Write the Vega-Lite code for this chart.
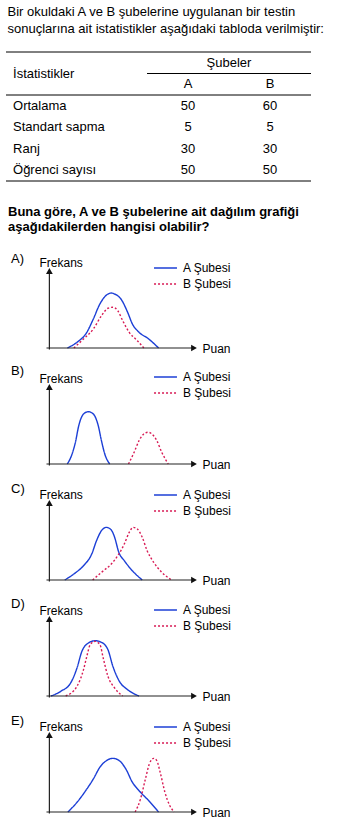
{
  "$schema": "https://vega.github.io/schema/vega-lite/v6.json",
  "padding": {"left": 5, "top": 5, "right": 5, "bottom": 5},
  "bounds": "flush",
  "spacing": 90,
  "title": {
    "text": ["Bir okuldaki A ve B şubelerine uygulanan bir testin", "sonuçlarına ait istatistikler aşağıdaki tabloda verilmiştir:"],
    "anchor": "start", "fontSize": 13, "fontWeight": "normal", "lineHeight": 17, "dx": 2, "offset": 16
  },
  "config": {
    "font": "Liberation Sans",
    "view": {"stroke": null},
    "title": {"color": "#000", "fontWeight": "normal", "fontSize": 13},
    "text": {"fontSize": 13, "color": "#000"},
    "axis": {"domain": false, "ticks": false, "labels": false, "grid": false, "titleFontWeight": "normal", "titleFontSize": 12, "titleColor": "#000", "titlePadding": 0},
    "axisX": {"titleX": 196, "titleY": 0, "titleAlign": "left", "titleBaseline": "middle", "titleAngle": 0},
    "axisY": {"titleX": 33, "titleY": -9, "titleAlign": "left", "titleBaseline": "middle", "titleAngle": 0},
    "legend": {"orient": "none", "legendX": 150, "symbolType": "M-1.35,0H1.35", "symbolSize": 289, "symbolStrokeWidth": 1.3, "labelFontSize": 12, "labelColor": "#000", "labelOffset": 8, "rowPadding": 0, "padding": 0}
  },
  "datasets": {
    "table": [
      {"stat": "Ortalama", "sube": "A", "value": 50},
      {"stat": "Ortalama", "sube": "B", "value": 60},
      {"stat": "Standart sapma", "sube": "A", "value": 5},
      {"stat": "Standart sapma", "sube": "B", "value": 5},
      {"stat": "Ranj", "sube": "A", "value": 30},
      {"stat": "Ranj", "sube": "B", "value": 30},
      {"stat": "Öğrenci sayısı", "sube": "A", "value": 50},
      {"stat": "Öğrenci sayısı", "sube": "B", "value": 50}
    ],
    "curves": [
      {"panel": "A", "sube": "A Şubesi", "puan": 12.4, "frekans": 0},
      {"panel": "A", "sube": "A Şubesi", "puan": 19.1, "frekans": 7.4},
      {"panel": "A", "sube": "A Şubesi", "puan": 25.9, "frekans": 20.4},
      {"panel": "A", "sube": "A Şubesi", "puan": 30.4, "frekans": 37.7},
      {"panel": "A", "sube": "A Şubesi", "puan": 34.9, "frekans": 57.1},
      {"panel": "A", "sube": "A Şubesi", "puan": 40.5, "frekans": 70.1},
      {"panel": "A", "sube": "A Şubesi", "puan": 42.8, "frekans": 71.4},
      {"panel": "A", "sube": "A Şubesi", "puan": 45.1, "frekans": 70.1},
      {"panel": "A", "sube": "A Şubesi", "puan": 49.5, "frekans": 63.6},
      {"panel": "A", "sube": "A Şubesi", "puan": 54.1, "frekans": 46.4},
      {"panel": "A", "sube": "A Şubesi", "puan": 57.4, "frekans": 31.2},
      {"panel": "A", "sube": "A Şubesi", "puan": 62.0, "frekans": 20.4},
      {"panel": "A", "sube": "A Şubesi", "puan": 68.7, "frekans": 11.7},
      {"panel": "A", "sube": "A Şubesi", "puan": 75.5, "frekans": 0},
      {"panel": "A", "sube": "B Şubesi", "puan": 16.9, "frekans": 0},
      {"panel": "A", "sube": "B Şubesi", "puan": 23.6, "frekans": 11.7},
      {"panel": "A", "sube": "B Şubesi", "puan": 30.4, "frekans": 24.7},
      {"panel": "A", "sube": "B Şubesi", "puan": 36.0, "frekans": 41.9},
      {"panel": "A", "sube": "B Şubesi", "puan": 40.5, "frekans": 51.6},
      {"panel": "A", "sube": "B Şubesi", "puan": 43.9, "frekans": 52.9},
      {"panel": "A", "sube": "B Şubesi", "puan": 47.3, "frekans": 48.4},
      {"panel": "A", "sube": "B Şubesi", "puan": 50.7, "frekans": 35.5},
      {"panel": "A", "sube": "B Şubesi", "puan": 55.2, "frekans": 20.4},
      {"panel": "A", "sube": "B Şubesi", "puan": 60.8, "frekans": 9.5},
      {"panel": "A", "sube": "B Şubesi", "puan": 65.3, "frekans": 0},

      {"panel": "B", "sube": "A Şubesi", "puan": 12.4, "frekans": 0},
      {"panel": "B", "sube": "A Şubesi", "puan": 15.7, "frekans": 13.0},
      {"panel": "B", "sube": "A Şubesi", "puan": 18.0, "frekans": 28.2},
      {"panel": "B", "sube": "A Şubesi", "puan": 20.3, "frekans": 49.7},
      {"panel": "B", "sube": "A Şubesi", "puan": 23.6, "frekans": 64.9},
      {"panel": "B", "sube": "A Şubesi", "puan": 27.0, "frekans": 67.9},
      {"panel": "B", "sube": "A Şubesi", "puan": 30.4, "frekans": 64.9},
      {"panel": "B", "sube": "A Şubesi", "puan": 33.8, "frekans": 49.7},
      {"panel": "B", "sube": "A Şubesi", "puan": 36.0, "frekans": 30.3},
      {"panel": "B", "sube": "A Şubesi", "puan": 38.3, "frekans": 13.0},
      {"panel": "B", "sube": "A Şubesi", "puan": 41.7, "frekans": 0},
      {"panel": "B", "sube": "B Şubesi", "puan": 54.7, "frekans": 0},
      {"panel": "B", "sube": "B Şubesi", "puan": 58.6, "frekans": 15.2},
      {"panel": "B", "sube": "B Şubesi", "puan": 62.0, "frekans": 30.3},
      {"panel": "B", "sube": "B Şubesi", "puan": 65.3, "frekans": 39.0},
      {"panel": "B", "sube": "B Şubesi", "puan": 68.2, "frekans": 41.2},
      {"panel": "B", "sube": "B Şubesi", "puan": 70.9, "frekans": 39.0},
      {"panel": "B", "sube": "B Şubesi", "puan": 74.3, "frekans": 30.3},
      {"panel": "B", "sube": "B Şubesi", "puan": 77.7, "frekans": 15.2},
      {"panel": "B", "sube": "B Şubesi", "puan": 82.2, "frekans": 0},

      {"panel": "C", "sube": "A Şubesi", "puan": 10.6, "frekans": 0},
      {"panel": "C", "sube": "A Şubesi", "puan": 16.9, "frekans": 7.8},
      {"panel": "C", "sube": "A Şubesi", "puan": 23.6, "frekans": 18.6},
      {"panel": "C", "sube": "A Şubesi", "puan": 29.3, "frekans": 33.8},
      {"panel": "C", "sube": "A Şubesi", "puan": 32.6, "frekans": 51.1},
      {"panel": "C", "sube": "A Şubesi", "puan": 36.0, "frekans": 64.0},
      {"panel": "C", "sube": "A Şubesi", "puan": 39.4, "frekans": 68.4},
      {"panel": "C", "sube": "A Şubesi", "puan": 42.8, "frekans": 64.9},
      {"panel": "C", "sube": "A Şubesi", "puan": 45.1, "frekans": 55.5},
      {"panel": "C", "sube": "A Şubesi", "puan": 48.0, "frekans": 36.0},
      {"panel": "C", "sube": "A Şubesi", "puan": 51.8, "frekans": 25.1},
      {"panel": "C", "sube": "A Şubesi", "puan": 56.3, "frekans": 14.3},
      {"panel": "C", "sube": "A Şubesi", "puan": 64.2, "frekans": 0},
      {"panel": "C", "sube": "B Şubesi", "puan": 29.9, "frekans": 0},
      {"panel": "C", "sube": "B Şubesi", "puan": 36.0, "frekans": 10.0},
      {"panel": "C", "sube": "B Şubesi", "puan": 42.8, "frekans": 20.8},
      {"panel": "C", "sube": "B Şubesi", "puan": 47.3, "frekans": 31.6},
      {"panel": "C", "sube": "B Şubesi", "puan": 51.8, "frekans": 46.8},
      {"panel": "C", "sube": "B Şubesi", "puan": 55.2, "frekans": 61.9},
      {"panel": "C", "sube": "B Şubesi", "puan": 57.9, "frekans": 68.4},
      {"panel": "C", "sube": "B Şubesi", "puan": 60.8, "frekans": 66.2},
      {"panel": "C", "sube": "B Şubesi", "puan": 64.2, "frekans": 55.5},
      {"panel": "C", "sube": "B Şubesi", "puan": 67.6, "frekans": 38.1},
      {"panel": "C", "sube": "B Şubesi", "puan": 72.1, "frekans": 23.0},
      {"panel": "C", "sube": "B Şubesi", "puan": 77.7, "frekans": 10.0},
      {"panel": "C", "sube": "B Şubesi", "puan": 84.5, "frekans": 0},

      {"panel": "D", "sube": "A Şubesi", "puan": 1.1, "frekans": 0},
      {"panel": "D", "sube": "A Şubesi", "puan": 7.9, "frekans": 6.1},
      {"panel": "D", "sube": "A Şubesi", "puan": 14.7, "frekans": 16.9},
      {"panel": "D", "sube": "A Şubesi", "puan": 19.1, "frekans": 36.4},
      {"panel": "D", "sube": "A Şubesi", "puan": 22.5, "frekans": 58.1},
      {"panel": "D", "sube": "A Şubesi", "puan": 27.0, "frekans": 68.8},
      {"panel": "D", "sube": "A Şubesi", "puan": 31.6, "frekans": 71.8},
      {"panel": "D", "sube": "A Şubesi", "puan": 36.0, "frekans": 69.7},
      {"panel": "D", "sube": "A Şubesi", "puan": 40.5, "frekans": 60.1},
      {"panel": "D", "sube": "A Şubesi", "puan": 43.9, "frekans": 38.6},
      {"panel": "D", "sube": "A Şubesi", "puan": 48.4, "frekans": 19.1},
      {"panel": "D", "sube": "A Şubesi", "puan": 54.1, "frekans": 8.2},
      {"panel": "D", "sube": "A Şubesi", "puan": 62.0, "frekans": 0},
      {"panel": "D", "sube": "B Şubesi", "puan": 11.3, "frekans": 0},
      {"panel": "D", "sube": "B Şubesi", "puan": 19.1, "frekans": 12.6},
      {"panel": "D", "sube": "B Şubesi", "puan": 23.6, "frekans": 34.2},
      {"panel": "D", "sube": "B Şubesi", "puan": 25.9, "frekans": 51.6},
      {"panel": "D", "sube": "B Şubesi", "puan": 28.2, "frekans": 66.6},
      {"panel": "D", "sube": "B Şubesi", "puan": 31.6, "frekans": 71.0},
      {"panel": "D", "sube": "B Şubesi", "puan": 35.0, "frekans": 66.6},
      {"panel": "D", "sube": "B Şubesi", "puan": 37.2, "frekans": 49.4},
      {"panel": "D", "sube": "B Şubesi", "puan": 40.5, "frekans": 25.6},
      {"panel": "D", "sube": "B Şubesi", "puan": 45.1, "frekans": 10.4},
      {"panel": "D", "sube": "B Şubesi", "puan": 50.7, "frekans": 0},

      {"panel": "E", "sube": "A Şubesi", "puan": 12.8, "frekans": 0},
      {"panel": "E", "sube": "A Şubesi", "puan": 19.1, "frekans": 12.6},
      {"panel": "E", "sube": "A Şubesi", "puan": 25.9, "frekans": 29.9},
      {"panel": "E", "sube": "A Şubesi", "puan": 30.4, "frekans": 42.9},
      {"panel": "E", "sube": "A Şubesi", "puan": 34.9, "frekans": 58.1},
      {"panel": "E", "sube": "A Şubesi", "puan": 39.4, "frekans": 66.6},
      {"panel": "E", "sube": "A Şubesi", "puan": 43.9, "frekans": 69.7},
      {"panel": "E", "sube": "A Şubesi", "puan": 48.4, "frekans": 66.6},
      {"panel": "E", "sube": "A Şubesi", "puan": 52.9, "frekans": 55.8},
      {"panel": "E", "sube": "A Şubesi", "puan": 57.4, "frekans": 38.6},
      {"panel": "E", "sube": "A Şubesi", "puan": 62.0, "frekans": 27.7},
      {"panel": "E", "sube": "A Şubesi", "puan": 68.7, "frekans": 14.7},
      {"panel": "E", "sube": "A Şubesi", "puan": 75.5, "frekans": 0},
      {"panel": "E", "sube": "B Şubesi", "puan": 59.3, "frekans": 0},
      {"panel": "E", "sube": "B Şubesi", "puan": 63.0, "frekans": 16.9},
      {"panel": "E", "sube": "B Şubesi", "puan": 66.4, "frekans": 42.9},
      {"panel": "E", "sube": "B Şubesi", "puan": 69.1, "frekans": 62.3},
      {"panel": "E", "sube": "B Şubesi", "puan": 72.1, "frekans": 69.7},
      {"panel": "E", "sube": "B Şubesi", "puan": 74.3, "frekans": 66.6},
      {"panel": "E", "sube": "B Şubesi", "puan": 76.6, "frekans": 51.6},
      {"panel": "E", "sube": "B Şubesi", "puan": 79.9, "frekans": 25.6},
      {"panel": "E", "sube": "B Şubesi", "puan": 83.3, "frekans": 8.2},
      {"panel": "E", "sube": "B Şubesi", "puan": 86.3, "frekans": 0}
    ]
  },
  "vconcat": [
    {
      "width": 305,
      "height": 129,
      "title": {
        "text": ["Buna göre, A ve B şubelerine ait dağılım grafiği", "aşağıdakilerden hangisi olabilir?"],
        "orient": "bottom", "anchor": "start", "frame": "group", "fontWeight": "bold", "fontSize": 13, "lineHeight": 15, "dx": 2, "offset": 24
      },
      "data": {"name": "table"},
      "encoding": {
        "x": {"type": "nominal", "axis": null, "scale": {"type": "band", "domain": ["stub", "A", "B"], "paddingInner": 0, "paddingOuter": 0.36, "align": 1}},
        "y": {"type": "nominal", "axis": null, "scale": {"type": "band", "domain": ["h1", "h2", "Ortalama", "Standart sapma", "Ranj", "Öğrenci sayısı"], "paddingInner": 0, "paddingOuter": 0}}
      },
      "layer": [
        {"mark": {"type": "text"}, "encoding": {"x": {"field": "sube", "type": "nominal"}, "y": {"field": "stat", "type": "nominal"}, "text": {"field": "value", "type": "quantitative"}}},
        {"transform": [{"filter": "datum.sube == 'A'"}], "mark": {"type": "text", "align": "left", "dx": -52}, "encoding": {"x": {"datum": "stub", "bandPosition": 0}, "y": {"field": "stat", "type": "nominal"}, "text": {"field": "stat", "type": "nominal"}}},
        {"transform": [{"filter": "datum.stat == 'Ortalama'"}], "mark": {"type": "text"}, "encoding": {"x": {"field": "sube", "type": "nominal"}, "y": {"datum": "h2"}, "text": {"field": "sube", "type": "nominal"}}},
        {"data": {"values": [{}]}, "mark": {"type": "text"}, "encoding": {"x": {"datum": "B", "bandPosition": 0}, "y": {"datum": "h1"}, "text": {"value": "Şubeler"}}},
        {"data": {"values": [{}]}, "mark": {"type": "text", "align": "left", "dx": -52}, "encoding": {"x": {"datum": "stub", "bandPosition": 0}, "y": {"datum": "h1", "bandPosition": 1}, "text": {"value": "İstatistikler"}}},
        {"data": {"values": [{}]}, "mark": {"type": "rule", "color": "#000", "strokeWidth": 1}, "encoding": {"y": {"datum": "h1", "bandPosition": 0}}},
        {"data": {"values": [{}]}, "mark": {"type": "rule", "color": "#000", "strokeWidth": 1}, "encoding": {"y": {"datum": "h2", "bandPosition": 0}, "x": {"datum": "A", "bandPosition": 0}, "x2": {"datum": "B", "bandPosition": 1}}},
        {"data": {"values": [{}]}, "mark": {"type": "rule", "color": "#000", "strokeWidth": 1}, "encoding": {"y": {"datum": "Ortalama", "bandPosition": 0}}},
        {"data": {"values": [{}]}, "mark": {"type": "rule", "color": "#000", "strokeWidth": 1}, "encoding": {"y": {"datum": "Öğrenci sayısı", "bandPosition": 1}}}
      ]
    },
    {
      "bounds": "flush",
      "spacing": 39,
      "resolve": {"scale": {"color": "independent", "strokeDash": "independent"}, "legend": {"color": "independent", "strokeDash": "independent"}},
      "vconcat": [
        {
          "width": 188, "height": 77,
          "title": {"text": "A)", "anchor": "start", "frame": "group", "dx": 5, "offset": -10},
          "layer": [
            {"data": {"name": "curves"}, "transform": [{"filter": "datum.panel == 'A'"}], "mark": {"type": "line", "interpolate": "monotone", "strokeWidth": 1.4},
             "encoding": {
               "x": {"field": "puan", "type": "quantitative", "scale": {"domain": [-27, 100]}, "axis": {"title": "Puan"}},
               "y": {"field": "frekans", "type": "quantitative", "scale": {"domain": [0, 100]}, "axis": {"title": "Frekans"}},
               "color": {"field": "sube", "type": "nominal", "scale": {"domain": ["A Şubesi", "B Şubesi"], "range": ["#1c3fd6", "#d81b55"]}, "legend": {"title": null, "legendY": -12.5}},
               "strokeDash": {"field": "sube", "type": "nominal", "scale": {"domain": ["A Şubesi", "B Şubesi"], "range": [[1, 0], [2, 2]]}, "legend": {"title": null, "legendY": -12.5}}
             }},
            {"data": {"values": [{}]}, "mark": {"type": "rule", "color": "#222", "strokeWidth": 1.2}, "encoding": {"x": {"datum": 0}, "y": {"datum": -2}, "y2": {"datum": 100}}},
            {"data": {"values": [{}]}, "mark": {"type": "rule", "color": "#222", "strokeWidth": 1.2}, "encoding": {"y": {"datum": 0}, "x": {"datum": -2}, "x2": {"datum": 100}}},
            {"data": {"values": [{}]}, "mark": {"type": "point", "shape": "triangle-up", "filled": true, "color": "#111", "size": 45, "opacity": 1}, "encoding": {"x": {"datum": 0}, "y": {"datum": 100}}},
            {"data": {"values": [{}]}, "mark": {"type": "point", "shape": "triangle-right", "filled": true, "color": "#111", "size": 45, "opacity": 1}, "encoding": {"x": {"datum": 100}, "y": {"datum": 0}}}
          ]
        },
        {
          "width": 188, "height": 77,
          "title": {"text": "B)", "anchor": "start", "frame": "group", "dx": 5, "offset": -10},
          "layer": [
            {"data": {"name": "curves"}, "transform": [{"filter": "datum.panel == 'B'"}], "mark": {"type": "line", "interpolate": "monotone", "strokeWidth": 1.4},
             "encoding": {
               "x": {"field": "puan", "type": "quantitative", "scale": {"domain": [-27, 100]}, "axis": {"title": "Puan"}},
               "y": {"field": "frekans", "type": "quantitative", "scale": {"domain": [0, 100]}, "axis": {"title": "Frekans"}},
               "color": {"field": "sube", "type": "nominal", "scale": {"domain": ["A Şubesi", "B Şubesi"], "range": ["#1c3fd6", "#d81b55"]}, "legend": {"title": null, "legendY": -19.5}},
               "strokeDash": {"field": "sube", "type": "nominal", "scale": {"domain": ["A Şubesi", "B Şubesi"], "range": [[1, 0], [2, 2]]}, "legend": {"title": null, "legendY": -19.5}}
             }},
            {"data": {"values": [{}]}, "mark": {"type": "rule", "color": "#222", "strokeWidth": 1.2}, "encoding": {"x": {"datum": 0}, "y": {"datum": -2}, "y2": {"datum": 100}}},
            {"data": {"values": [{}]}, "mark": {"type": "rule", "color": "#222", "strokeWidth": 1.2}, "encoding": {"y": {"datum": 0}, "x": {"datum": -2}, "x2": {"datum": 100}}},
            {"data": {"values": [{}]}, "mark": {"type": "point", "shape": "triangle-up", "filled": true, "color": "#111", "size": 45, "opacity": 1}, "encoding": {"x": {"datum": 0}, "y": {"datum": 100}}},
            {"data": {"values": [{}]}, "mark": {"type": "point", "shape": "triangle-right", "filled": true, "color": "#111", "size": 45, "opacity": 1}, "encoding": {"x": {"datum": 100}, "y": {"datum": 0}}}
          ]
        },
        {
          "width": 188, "height": 77,
          "title": {"text": "C)", "anchor": "start", "frame": "group", "dx": 5, "offset": -10},
          "layer": [
            {"data": {"name": "curves"}, "transform": [{"filter": "datum.panel == 'C'"}], "mark": {"type": "line", "interpolate": "monotone", "strokeWidth": 1.4},
             "encoding": {
               "x": {"field": "puan", "type": "quantitative", "scale": {"domain": [-27, 100]}, "axis": {"title": "Puan"}},
               "y": {"field": "frekans", "type": "quantitative", "scale": {"domain": [0, 100]}, "axis": {"title": "Frekans"}},
               "color": {"field": "sube", "type": "nominal", "scale": {"domain": ["A Şubesi", "B Şubesi"], "range": ["#1c3fd6", "#d81b55"]}, "legend": {"title": null, "legendY": -17.5}},
               "strokeDash": {"field": "sube", "type": "nominal", "scale": {"domain": ["A Şubesi", "B Şubesi"], "range": [[1, 0], [2, 2]]}, "legend": {"title": null, "legendY": -17.5}}
             }},
            {"data": {"values": [{}]}, "mark": {"type": "rule", "color": "#222", "strokeWidth": 1.2}, "encoding": {"x": {"datum": 0}, "y": {"datum": -2}, "y2": {"datum": 100}}},
            {"data": {"values": [{}]}, "mark": {"type": "rule", "color": "#222", "strokeWidth": 1.2}, "encoding": {"y": {"datum": 0}, "x": {"datum": -2}, "x2": {"datum": 100}}},
            {"data": {"values": [{}]}, "mark": {"type": "point", "shape": "triangle-up", "filled": true, "color": "#111", "size": 45, "opacity": 1}, "encoding": {"x": {"datum": 0}, "y": {"datum": 100}}},
            {"data": {"values": [{}]}, "mark": {"type": "point", "shape": "triangle-right", "filled": true, "color": "#111", "size": 45, "opacity": 1}, "encoding": {"x": {"datum": 100}, "y": {"datum": 0}}}
          ]
        },
        {
          "width": 188, "height": 77,
          "title": {"text": "D)", "anchor": "start", "frame": "group", "dx": 5, "offset": -10},
          "layer": [
            {"data": {"name": "curves"}, "transform": [{"filter": "datum.panel == 'D'"}], "mark": {"type": "line", "interpolate": "monotone", "strokeWidth": 1.4},
             "encoding": {
               "x": {"field": "puan", "type": "quantitative", "scale": {"domain": [-27, 100]}, "axis": {"title": "Puan"}},
               "y": {"field": "frekans", "type": "quantitative", "scale": {"domain": [0, 100]}, "axis": {"title": "Frekans"}},
               "color": {"field": "sube", "type": "nominal", "scale": {"domain": ["A Şubesi", "B Şubesi"], "range": ["#1c3fd6", "#d81b55"]}, "legend": {"title": null, "legendY": -18.5}},
               "strokeDash": {"field": "sube", "type": "nominal", "scale": {"domain": ["A Şubesi", "B Şubesi"], "range": [[1, 0], [2, 2]]}, "legend": {"title": null, "legendY": -18.5}}
             }},
            {"data": {"values": [{}]}, "mark": {"type": "rule", "color": "#222", "strokeWidth": 1.2}, "encoding": {"x": {"datum": 0}, "y": {"datum": -2}, "y2": {"datum": 100}}},
            {"data": {"values": [{}]}, "mark": {"type": "rule", "color": "#222", "strokeWidth": 1.2}, "encoding": {"y": {"datum": 0}, "x": {"datum": -2}, "x2": {"datum": 100}}},
            {"data": {"values": [{}]}, "mark": {"type": "point", "shape": "triangle-up", "filled": true, "color": "#111", "size": 45, "opacity": 1}, "encoding": {"x": {"datum": 0}, "y": {"datum": 100}}},
            {"data": {"values": [{}]}, "mark": {"type": "point", "shape": "triangle-right", "filled": true, "color": "#111", "size": 45, "opacity": 1}, "encoding": {"x": {"datum": 100}, "y": {"datum": 0}}}
          ]
        },
        {
          "width": 188, "height": 77,
          "title": {"text": "E)", "anchor": "start", "frame": "group", "dx": 5, "offset": -10},
          "layer": [
            {"data": {"name": "curves"}, "transform": [{"filter": "datum.panel == 'E'"}], "mark": {"type": "line", "interpolate": "monotone", "strokeWidth": 1.4},
             "encoding": {
               "x": {"field": "puan", "type": "quantitative", "scale": {"domain": [-27, 100]}, "axis": {"title": "Puan"}},
               "y": {"field": "frekans", "type": "quantitative", "scale": {"domain": [0, 100]}, "axis": {"title": "Frekans"}},
               "color": {"field": "sube", "type": "nominal", "scale": {"domain": ["A Şubesi", "B Şubesi"], "range": ["#1c3fd6", "#d81b55"]}, "legend": {"title": null, "legendY": -17.5}},
               "strokeDash": {"field": "sube", "type": "nominal", "scale": {"domain": ["A Şubesi", "B Şubesi"], "range": [[1, 0], [2, 2]]}, "legend": {"title": null, "legendY": -17.5}}
             }},
            {"data": {"values": [{}]}, "mark": {"type": "rule", "color": "#222", "strokeWidth": 1.2}, "encoding": {"x": {"datum": 0}, "y": {"datum": -2}, "y2": {"datum": 100}}},
            {"data": {"values": [{}]}, "mark": {"type": "rule", "color": "#222", "strokeWidth": 1.2}, "encoding": {"y": {"datum": 0}, "x": {"datum": -2}, "x2": {"datum": 100}}},
            {"data": {"values": [{}]}, "mark": {"type": "point", "shape": "triangle-up", "filled": true, "color": "#111", "size": 45, "opacity": 1}, "encoding": {"x": {"datum": 0}, "y": {"datum": 100}}},
            {"data": {"values": [{}]}, "mark": {"type": "point", "shape": "triangle-right", "filled": true, "color": "#111", "size": 45, "opacity": 1}, "encoding": {"x": {"datum": 100}, "y": {"datum": 0}}}
          ]
        }
      ]
    }
  ]
}
